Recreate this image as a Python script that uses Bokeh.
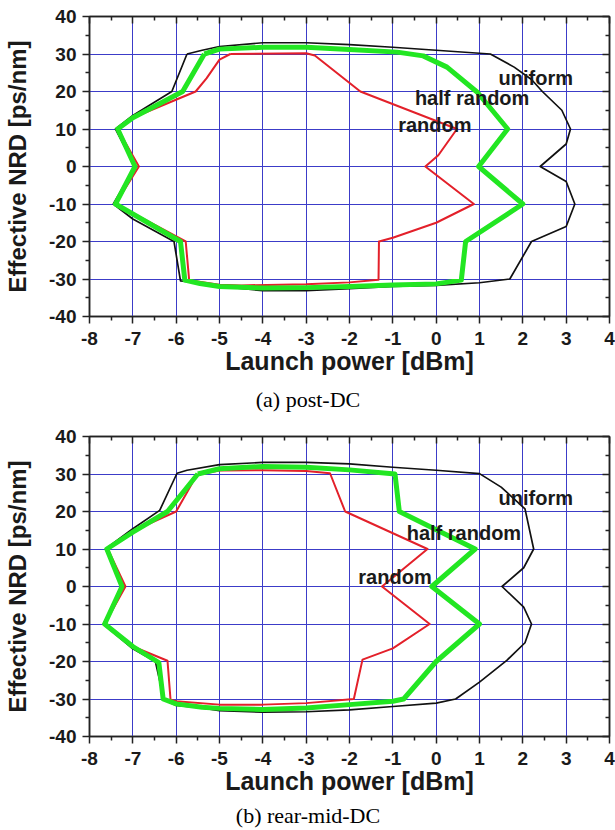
from bokeh.plotting import figure
from bokeh.models import LinearAxis, Range1d, FixedTicker, ColumnDataSource
from bokeh.layouts import column
from bokeh.embed import file_html
from bokeh.resources import INLINE
from bokeh.core.properties import value

# ---------------- data ----------------
x_ticks = list(range(-8, 5))
y_ticks = list(range(-40, 41, 10))
x_minor = [t + 0.5 for t in range(-8, 4)]
y_minor = [t + 5 for t in range(-40, 40, 10)]

series_names = ["uniform", "half random", "random"]

# (a) post-DC
a_uniform_x = [-5.75, -5.4, -5.0, -4.0, -3.0, -2.0, -1.0, 0.0, 1.25, 1.8, 2.2, 2.45, 2.9, 3.1, 3.0, 2.4,
               3.0, 3.2, 3.0, 2.2, 1.7, 1.0, 0.0, -1.0, -2.0, -3.0, -4.0, -5.0, -5.5, -5.9, -6.05,
               -7.0, -7.45, -6.95, -7.4, -7.0, -6.1]
a_uniform_y = [30, 31, 32, 33, 33, 32.5, 31.8, 31, 30, 26.5, 23.2, 20, 15, 10, 6, 0,
               -4, -10, -16, -20, -30, -31, -31.7, -32, -32.6, -33.1, -33.1, -32, -31, -30.5, -20,
               -14, -10, 0, 10, 13.6, 20]

a_half_x = [-5.35, -5.0, -4.0, -3.0, -2.0, -0.9, -0.3, 0.25, 0.95, 1.65, 0.98, 2.0, 0.68, 0.58,
            0.0, -1.0, -2.0, -3.0, -4.0, -5.0, -5.45, -5.8, -5.9, -7.4, -6.95, -7.35, -7.0, -5.85]
a_half_y = [30, 31.3, 31.8, 31.8, 31.2, 30.5, 29.5, 26.5, 19.8, 10, 0, -10, -20, -30.3,
            -31.3, -31.6, -32, -32.3, -32.4, -32, -31.2, -30.3, -20, -10, 0, 10, 13, 20]

a_random_x = [-4.75, -3.0, -2.8, -1.75, 0.48, 0.05, -0.25, 0.87, 0.0, -1.0, -1.32, -1.33, -2.0, -3.0,
              -4.5, -5.0, -5.7, -5.78, -7.4, -6.86, -7.35, -7.0, -5.55, -5.3, -5.0]
a_random_y = [30, 30.2, 29.6, 20, 10, 3, 0, -10, -15, -19, -20, -30.2, -30.9, -31.4,
              -31.7, -31.5, -30.3, -20, -10, 0, 10, 13, 20, 23.5, 28.5]

# (b) rear-mid-DC
b_uniform_x = [-5.98, -5.75, -5.0, -4.0, -3.0, -2.0, -1.0, 0.0, 1.0, 1.5, 2.05, 2.25, 2.02, 1.52,
               2.02, 2.2, 2.05, 1.63, 1.0, 0.45, 0.0, -1.0, -2.0, -3.0, -4.0, -5.0, -5.45, -6.0,
               -6.28, -6.48, -7.0, -7.68, -7.21, -7.63, -7.0, -6.38]
b_uniform_y = [30.2, 31, 32.5, 33.1, 33.1, 32.7, 31.8, 31, 30.1, 26.5, 20.7, 10, 5, 0,
               -5.5, -10, -15, -19.7, -25.5, -30, -31.1, -32, -32.9, -33.4, -33.5, -33.1, -32.3, -31.7,
               -30.2, -20, -16.6, -10, 0, 10, 15.4, 20.3]

b_half_x = [-5.5, -5.0, -4.0, -3.0, -2.0, -0.95, -0.85, 0.9, -0.1, 1.0, 0.0, -0.75, -1.0, -2.0,
            -3.0, -4.0, -5.0, -5.4, -6.0, -6.3, -6.4, -7.0, -7.65, -7.25, -7.6, -7.0, -6.2]
b_half_y = [30, 31.4, 32, 31.8, 31.1, 30, 20, 10, 0, -10, -20, -30, -30.6, -31.5,
            -32.4, -32.8, -32.5, -32.2, -31.3, -30, -20.3, -16, -10, 0, 10, 14.5, 20]

b_random_x = [-5.52, -5.0, -4.0, -3.0, -2.45, -2.1, -0.2, -1.25, -0.15, -1.0, -1.7, -1.9, -3.0,
              -4.0, -5.0, -6.0, -6.13, -6.2, -7.0, -7.65, -7.17, -7.58, -7.0, -6.0]
b_random_y = [29.8, 30.9, 31, 30.8, 30.2, 20, 10, 0, -10, -16.5, -19.5, -30, -31.1,
              -31.5, -31.5, -30.6, -30.2, -19.8, -16, -10, 0, 10, 14.8, 20]

captions = ["(a) post-DC", "(b) rear-mid-DC"]

# ---------------- style ----------------
GRID = "#3c3cc8"
AXIS = "#222222"
TXT = "#1a1a1a"
SANS = "Liberation Sans"
SERIF = "Liberation Serif"
COLORS = {"uniform": "#111111", "half random": "#22e622", "random": "#e3202a"}
WIDTHS = {"uniform": 1.7, "half random": 5, "random": 2}
W = 615
LEFT = 89
RIGHT = 6


def closed(v):
    return list(v) + [v[0]]


def make_panel(curves, name_xy):
    p = figure(width=W, height=378, x_range=Range1d(-8, 4), y_range=Range1d(-40, 40),
               output_backend="svg", toolbar_location=None,
               min_border_left=LEFT, min_border_right=RIGHT, min_border_top=16,
               min_border_bottom=62, background_fill_color="white",
               border_fill_color="white")
    p.outline_line_color = AXIS
    p.outline_line_width = 1.5

    xt = FixedTicker(ticks=x_ticks, minor_ticks=x_minor)
    yt = FixedTicker(ticks=y_ticks, minor_ticks=y_minor)
    p.xaxis.ticker = xt
    p.yaxis.ticker = yt
    p.xaxis.major_label_overrides = {t: str(t) for t in x_ticks}
    p.yaxis.major_label_overrides = {t: str(t) for t in y_ticks}
    p.xgrid.ticker = xt
    p.ygrid.ticker = yt
    for g in (p.xgrid, p.ygrid):
        g.grid_line_color = GRID
        g.grid_line_width = 1
        g.grid_line_alpha = 1

    for ax in (p.xaxis, p.yaxis):
        ax.axis_line_color = AXIS
        ax.axis_line_width = 1.5
        ax.major_tick_line_color = AXIS
        ax.minor_tick_line_color = AXIS
        ax.major_tick_line_width = 1.5
        ax.minor_tick_line_width = 1.5
        ax.major_tick_in = 0
        ax.major_tick_out = 7
        ax.minor_tick_in = 0
        ax.minor_tick_out = 4
        ax.major_label_text_font = SANS
        ax.major_label_text_font_style = "bold"
        ax.major_label_text_font_size = "19px"
        ax.major_label_text_color = TXT
        ax.axis_label_text_font = SANS
        ax.axis_label_text_font_style = "bold"
        ax.axis_label_text_color = TXT
    p.xaxis.major_label_standoff = 8
    p.yaxis.major_label_standoff = 6
    p.xaxis.axis_label = "Launch power [dBm]"
    p.xaxis.axis_label_text_font_size = "25px"
    p.xaxis.axis_label_standoff = -1
    p.yaxis.axis_label = "Effective NRD [ps/nm]"
    p.yaxis.axis_label_text_font_size = "24px"
    p.yaxis.axis_label_standoff = 15

    for loc, tk in (("above", xt), ("right", yt)):
        ax = LinearAxis(ticker=tk, major_label_text_font_size="1px", major_label_text_color=None,
                        major_label_standoff=0,
                        major_tick_in=7, major_tick_out=0, minor_tick_in=4, minor_tick_out=0,
                        axis_line_color=AXIS, axis_line_width=1.5,
                        major_tick_line_color=AXIS, minor_tick_line_color=AXIS,
                        major_tick_line_width=1.5, minor_tick_line_width=1.5)
        p.add_layout(ax, loc)

    for name in ["uniform", "random", "half random"]:
        xs, ys = curves[name]
        p.line(closed(xs), closed(ys), line_color=COLORS[name], line_width=WIDTHS[name],
               line_join="round")

    src = ColumnDataSource(dict(x=[name_xy[n][0] for n in series_names],
                                y=[name_xy[n][1] for n in series_names],
                                t=series_names))
    p.text(x="x", y="y", text="t", source=src, text_font=value(SANS), text_font_style="bold",
           text_font_size="20px", text_color=TXT, text_align="center",
           text_baseline="alphabetic")
    return p


def make_caption(text, height, center_from_top):
    # the column aligns this figure's frame with the panels' frames (LEFT..W-RIGHT),
    # so the page centre is expressed as a fraction of that frame
    c = figure(width=W, height=height, x_range=Range1d(0, 1), y_range=Range1d(0, 1),
               output_backend="svg", toolbar_location=None, x_axis_type=None,
               y_axis_type=None, min_border=0, min_border_left=0, min_border_right=0,
               min_border_top=0, min_border_bottom=0, outline_line_color=None,
               background_fill_color="white", border_fill_color="white")
    c.grid.visible = False
    cx = (W / 2 - LEFT) / (W - LEFT - RIGHT)
    c.text(x=[cx], y=[1 - center_from_top / height], text=[text], text_font=value(SERIF),
           text_font_size="22px", text_color="black", text_align="center",
           text_baseline="middle")
    return c


pa = make_panel({"uniform": (a_uniform_x, a_uniform_y),
                 "half random": (a_half_x, a_half_y),
                 "random": (a_random_x, a_random_y)},
                {"uniform": (2.3, 23.65), "half random": (0.83, 18.2), "random": (-0.03, 11.1)})
ca = make_caption(captions[0], 42, 21)
pb = make_panel({"uniform": (b_uniform_x, b_uniform_y),
                 "half random": (b_half_x, b_half_y),
                 "random": (b_random_x, b_random_y)},
                {"uniform": (2.3, 23.5), "half random": (0.64, 14.2), "random": (-0.95, 2.5)})
cb = make_caption(captions[1], 32, 17)

layout = column(pa, ca, pb, cb, spacing=0)
open("out.html", "w").write(file_html(layout, INLINE))
